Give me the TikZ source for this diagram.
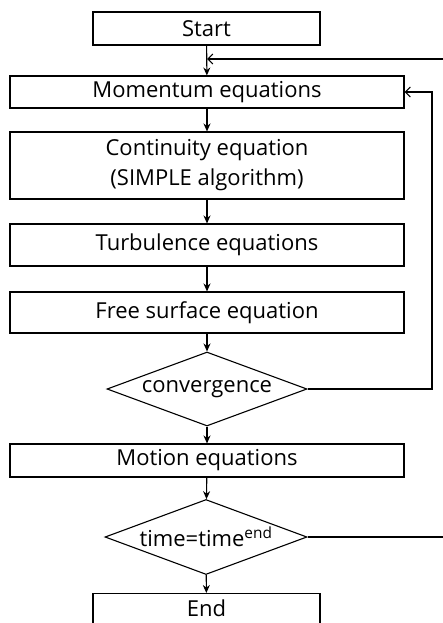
\documentclass[tikz,border=0pt]{standalone}
\usepackage{fontspec}
\setmainfont{Open Sans}
\usetikzlibrary{shapes.geometric,arrows.meta}
\begin{document}
\begin{tikzpicture}[x=1pt,y=-1pt,
  font=\fontsize{22}{26}\selectfont,
  every node/.style={line width=1.1pt},
  box/.style={draw,rectangle,inner sep=0pt,align=center},
  dec/.style={draw,diamond,shape aspect=2.7,inner sep=0pt},
  flow/.style={line width=1.1pt,-{Stealth[length=8pt,width=7pt]}},
  fb/.style={line width=1.1pt,-{Straight Barb[length=5pt,width=10pt]}}]
\useasboundingbox (0,0) rectangle (443,623);
\clip (0,0) rectangle (443,623);
\node[box,minimum width=227pt,minimum height=33pt] (start) at (206.5,28.5) {Start};
\node[box,minimum width=394pt,minimum height=32pt] (mom) at (207,92) {Momentum\ equations};
\node[box,minimum width=394pt,minimum height=67pt,font=\fontsize{22}{30}\selectfont] (cont) at (207,165.5) {Continuity\ equation\\(SIMPLE\ algorithm)};
\node[box,minimum width=394pt,minimum height=42pt] (turb) at (207,245) {Turbulence\ equations};
\node[box,minimum width=394pt,minimum height=41pt] (free) at (207,312.5) {Free\ surface\ equation};
\node[dec,minimum width=200pt,minimum height=74pt] (conv) at (207,389) {convergence};
\node[box,minimum width=394pt,minimum height=33pt] (motion) at (207,460.5) {Motion\ equations};
\node[dec,minimum width=202pt,minimum height=75pt] (time) at (206,537) {time=time\textsuperscript{end}};
\node[box,minimum width=227pt,minimum height=37pt,anchor=north] (end) at (206.5,593) {\raisebox{8pt}{End}};
\coordinate (j1) at (207,59);
\coordinate (lx) at (432,0);
\coordinate (rx) at (470,0);
\draw[flow] (start) -- (mom);
\draw[flow] (mom) -- (cont);
\draw[flow] (cont) -- (turb);
\draw[flow] (turb) -- (free);
\draw[flow] (free) -- (conv);
\draw[flow] (conv) -- (motion);
\draw[flow] (motion) -- (time);
\draw[flow] (time) -- (end);
\draw[fb] (conv.east) -- (conv.east -| lx) |- (mom.east);
\draw[fb] (time.east) -- (time.east -| rx) |- (j1);
\end{tikzpicture}
\end{document}
